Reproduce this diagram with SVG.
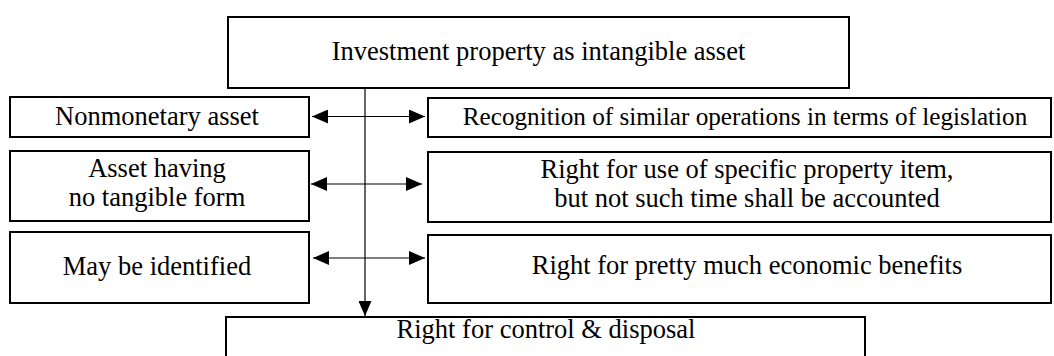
<svg xmlns="http://www.w3.org/2000/svg" width="1054" height="356" viewBox="0 0 1054 356">
<style>
.box{fill:#fff;stroke:#000;stroke-width:2}
.t{font-family:"Liberation Serif","Times New Roman",serif;font-size:26.5px;fill:#000;text-anchor:middle}
.s{font-size:25.2px}
.c{stroke:#000;stroke-width:1.2;fill:none}
</style>
<defs>
<marker id="ah" viewBox="0 0 16 14" refX="16" refY="7" markerWidth="16" markerHeight="14" markerUnits="userSpaceOnUse" orient="auto-start-reverse">
<path d="M0,0 L16,7 L0,14 Z" fill="#000"/>
</marker>
<marker id="av" viewBox="0 0 15 13" refX="15" refY="6.5" markerWidth="15" markerHeight="13" markerUnits="userSpaceOnUse" orient="auto">
<path d="M0,0 L15,6.5 L0,13 Z" fill="#000"/>
</marker>
</defs>
<rect width="1054" height="356" fill="#fff"/>
<g id="top"><rect class="box" x="228" y="17" width="621" height="71"/><text class="t" x="538.5" y="60">Investment property as intangible asset</text></g>
<g id="l1"><rect class="box" x="10" y="97" width="299" height="40"/><text class="t" x="157" y="125">Nonmonetary asset</text></g>
<g id="l2"><rect class="box" x="10" y="151" width="299" height="70"/><text class="t" x="157" y="177">Asset having</text><text class="t" x="157" y="206">no tangible form</text></g>
<g id="l3"><rect class="box" x="10" y="232" width="299" height="71"/><text class="t" x="157" y="275">May be identified</text></g>
<g id="r1"><rect class="box" x="428" y="98" width="623" height="39"/><text class="t s" x="745" y="125">Recognition of similar operations in terms of legislation</text></g>
<g id="r2"><rect class="box" x="428" y="152" width="623" height="70"/><text class="t" x="747" y="178">Right for use of specific property item,</text><text class="t" x="747" y="207">but not such time shall be accounted</text></g>
<g id="r3"><rect class="box" x="428" y="235" width="623" height="68"/><text class="t" x="747" y="274">Right for pretty much economic benefits</text></g>
<g id="bottom"><rect class="box" x="226" y="317" width="639" height="50"/><text class="t" x="546" y="338">Right for control &amp; disposal</text></g>
<g id="connectors">
<line class="c" x1="365" y1="88" x2="365" y2="316" marker-end="url(#av)"/>
<line class="c" x1="312" y1="116.5" x2="425" y2="116.5" marker-start="url(#ah)" marker-end="url(#ah)"/>
<line class="c" x1="311" y1="184" x2="422" y2="184" marker-start="url(#ah)" marker-end="url(#ah)"/>
<line class="c" x1="313" y1="258" x2="425" y2="258" marker-start="url(#ah)" marker-end="url(#ah)"/>
</g>
</svg>
